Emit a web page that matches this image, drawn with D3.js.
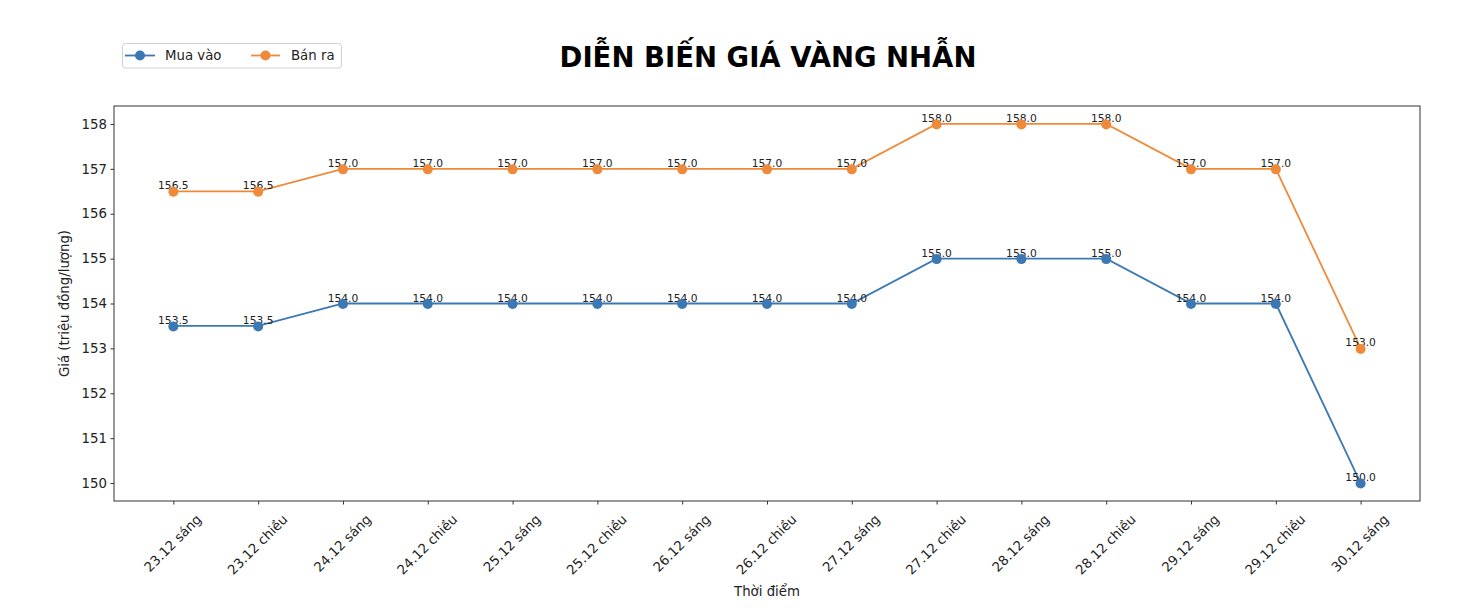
<!DOCTYPE html>
<html><head><meta charset="utf-8">
<script src="https://cdn.jsdelivr.net/npm/d3@7"></script>
<style>body{margin:0;background:#fff;} svg{display:block;font-family:"DejaVu Sans",sans-serif;}</style>
</head><body>
<svg id="c" width="1478" height="608"></svg>
<script>
const categories = ["23.12 sáng","23.12 chiều","24.12 sáng","24.12 chiều","25.12 sáng","25.12 chiều","26.12 sáng","26.12 chiều","27.12 sáng","27.12 chiều","28.12 sáng","28.12 chiều","29.12 sáng","29.12 chiều","30.12 sáng"];
const muaVao = [153.5,153.5,154,154,154,154,154,154,154,155,155,155,154,154,150];
const banRa = [156.5,156.5,157,157,157,157,157,157,157,158,158,158,157,157,153];
const yTicks = [150,151,152,153,154,155,156,157,158];
const seriesNames = ["Mua vào","Bán ra"];
const colors = ["#3b78b4","#ee8a3a"];

const svg = d3.select("#c");
const L=114, R=1420, T=106, B=501;
const x = d3.scaleLinear().domain([-0.7, 14.7]).range([L,R]);
const y = d3.scaleLinear().domain([149.6, 158.4]).range([B,T]);

// title
svg.append("text").attr("x",(L+R)/2+1).attr("y",66.5).attr("text-anchor","middle")
  .attr("font-size",27.5).attr("font-weight","bold").attr("fill","#000").text("DIỄN BIẾN GIÁ VÀNG NHẪN");

// axes
const yAxis = d3.axisLeft(y).tickValues(yTicks).tickSize(3.5).tickPadding(3.5).tickFormat(d3.format("d"));
const gy = svg.append("g").attr("transform",`translate(${L},0)`).call(yAxis);
gy.select(".domain").remove();
gy.selectAll("text").attr("font-size",13.3).attr("fill","#222").attr("font-family","DejaVu Sans");
gy.selectAll("line").attr("stroke","#333");

const xAxis = d3.axisBottom(x).tickValues(d3.range(categories.length)).tickSize(3.5).tickFormat(()=>"");
const gx = svg.append("g").attr("transform",`translate(0,${B})`).call(xAxis);
gx.select(".domain").remove();
gx.selectAll("line").attr("stroke","#333");

// rotated tick labels (bbox centered on tick)
const fs=13.3, fh=15.5;
categories.forEach((c,i)=>{
  const t = svg.append("text").attr("font-size",fs).attr("fill","#222")
    .attr("text-anchor","middle").attr("dominant-baseline","central").text(c);
  const w = t.node().getComputedTextLength();
  const h = (w+fh)/Math.SQRT2;
  const cx = x(i)-0.5, cy = B+10.5+h/2;
  t.attr("transform",`translate(${cx},${cy}) rotate(-45)`);
});

// axis labels
svg.append("text").attr("x",(L+R)/2).attr("y",596).attr("text-anchor","middle").attr("font-size",13.3).attr("fill","#222").text("Thời điểm");
svg.append("text").attr("transform",`translate(69,${(T+B)/2}) rotate(-90)`).attr("text-anchor","middle").attr("font-size",13.3).attr("fill","#222").text("Giá (triệu đồng/lượng)");

// frame
svg.append("rect").attr("x",L).attr("y",T).attr("width",R-L).attr("height",B-T).attr("fill","none").attr("stroke","#333").attr("stroke-width",1);

const line = d3.line().x((d,i)=>x(i)).y(d=>y(d));
[muaVao, banRa].forEach((s,k)=>{
  svg.append("path").datum(s).attr("d",line).attr("fill","none").attr("stroke",colors[k]).attr("stroke-width",1.8);
  svg.selectAll(null).data(s).enter().append("text")
    .attr("x",(d,i)=>x(i)).attr("y",d=>y(d)-2).attr("text-anchor","middle").attr("font-size",10.7).attr("fill","#222")
    .text(d=>d.toFixed(1));
  svg.selectAll(null).data(s).enter().append("circle")
    .attr("cx",(d,i)=>x(i)).attr("cy",d=>y(d)+0.5).attr("r",5).attr("fill",colors[k]);
});

// legend
const lg = svg.append("g");
lg.append("rect").attr("x",122.5).attr("y",43.5).attr("width",219).attr("height",24.5).attr("rx",3).attr("fill","#fff").attr("stroke","#d0d0d0");
const legX = [[125,155,165],[251,280,291]];
seriesNames.forEach((n,k)=>{
  const [a,b,tx]=legX[k];
  lg.append("line").attr("x1",a).attr("x2",b).attr("y1",55.5).attr("y2",55.5).attr("stroke",colors[k]).attr("stroke-width",1.8);
  lg.append("circle").attr("cx",(a+b)/2).attr("cy",55.5).attr("r",5).attr("fill",colors[k]);
  lg.append("text").attr("x",tx).attr("y",60).attr("font-size",13.3).attr("fill","#222").text(n);
});
</script>
</body></html>
